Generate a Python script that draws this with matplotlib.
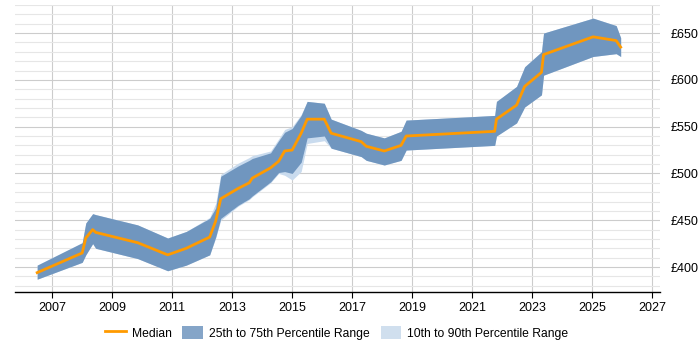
import matplotlib
matplotlib.use("Agg")
import matplotlib.pyplot as plt
from matplotlib.patches import Patch
from matplotlib.lines import Line2D
from matplotlib.ticker import MultipleLocator, FuncFormatter

plt.rcParams['font.family'] = ['Liberation Sans', 'DejaVu Sans']

year = [2006.5, 2008.0, 2008.12, 2008.35, 2008.45, 2009.85, 2010.85, 2011.47, 2012.25, 2012.45,
        2012.62, 2013.2, 2013.57, 2013.67, 2014.28, 2014.55, 2014.75, 2015.0, 2015.3, 2015.5,
        2016.07, 2016.3, 2017.3, 2017.47, 2018.07, 2018.63, 2018.8, 2021.75, 2021.81, 2022.48,
        2022.75, 2023.31, 2023.38, 2025.03, 2025.8, 2025.95]

median = [394, 415, 431, 440, 437, 426, 413, 420, 432, 449,
          473, 484, 490, 495, 506, 513, 524, 525, 543, 558,
          558, 543, 534, 529, 524, 530, 540, 545, 558, 573,
          593, 608, 627, 646, 642, 635]

p75 = [402, 426, 447, 457, 456, 445, 431, 438, 452, 463,
       497, 508, 514, 516, 522, 535, 544, 548, 562, 577,
       575, 558, 546, 543, 538, 545, 557, 562, 577, 593,
       614, 630, 650, 666, 658, 645]

p25 = [387, 405, 413, 425, 420, 409, 396, 402, 413, 432,
       452, 466, 473, 476, 491, 501, 502, 500, 512, 538,
       540, 527, 518, 514, 509, 514, 525, 530, 540, 554,
       571, 584, 605, 625, 628, 625]

p90 = [402, 426, 447, 457, 456, 445, 431, 438, 453, 468,
       499, 511, 517, 519, 524, 537, 547, 550, 563, 577,
       575, 558, 546, 543, 538, 545, 557, 562, 577, 593,
       614, 630, 650, 666, 658, 645]

p10 = [387, 405, 413, 425, 420, 409, 396, 402, 413, 431,
       450, 465, 472, 475, 490, 500, 498, 493, 502, 532,
       535, 527, 518, 514, 509, 514, 525, 530, 540, 554,
       571, 584, 605, 625, 628, 625]

x_ticks = [2007, 2009, 2011, 2013, 2015, 2017, 2019, 2021, 2023, 2025, 2027]

dark = '#7096bf'
light = '#c9dbee'
orange = '#ff9a00'

fig = plt.figure(figsize=(7, 3.5), dpi=100)
ax = fig.add_axes([0.0214, 0.1657, 0.9214, 0.82])

ax.fill_between(year, p10, p90, color=light, lw=0, zorder=2)
ax.fill_between(year, p25, p75, color=dark, lw=0, zorder=3)
ax.plot(year, median, color=orange, lw=2, zorder=4)

ax.set_xlim(2005.76, 2027.26)
ax.set_ylim(373.3, 680)
ax.set_xticks(x_ticks)
ax.set_xticklabels([str(t) for t in x_ticks])
ax.yaxis.set_major_locator(MultipleLocator(50))
ax.yaxis.set_minor_locator(MultipleLocator(10))
ax.yaxis.set_major_formatter(FuncFormatter(lambda v, p: f"£{int(v)}"))
ax.yaxis.tick_right()
ax.tick_params(axis='y', which='both', length=0, labelsize=9, pad=8)
ax.tick_params(axis='x', length=4, labelsize=9, color='black')

ax.grid(axis='x', color='#cccccc', lw=0.8, zorder=0)
ax.grid(axis='y', which='major', color='#cccccc', lw=0.8, zorder=0)
ax.grid(axis='y', which='minor', color='#e6e6e6', lw=0.8, zorder=0)
ax.set_axisbelow(True)

for s in ['top', 'right', 'left']:
    ax.spines[s].set_visible(False)
ax.spines['bottom'].set_color('black')
ax.spines['bottom'].set_linewidth(1)

handles = [Line2D([0], [0], color=orange, lw=2),
           Patch(facecolor='#85a5c8', edgecolor='none'),
           Patch(facecolor='#d0dfee', edgecolor='none')]
labels = ['Median', '25th to 75th Percentile Range', '10th to 90th Percentile Range']
fig.legend(handles, labels, loc='center', bbox_to_anchor=(0.481, 0.049), ncol=3,
           frameon=False, fontsize=8.7, handlelength=1.7, handleheight=1.3,
           columnspacing=0.9, handletextpad=0.5)

fig.savefig('out.png', dpi=100)
